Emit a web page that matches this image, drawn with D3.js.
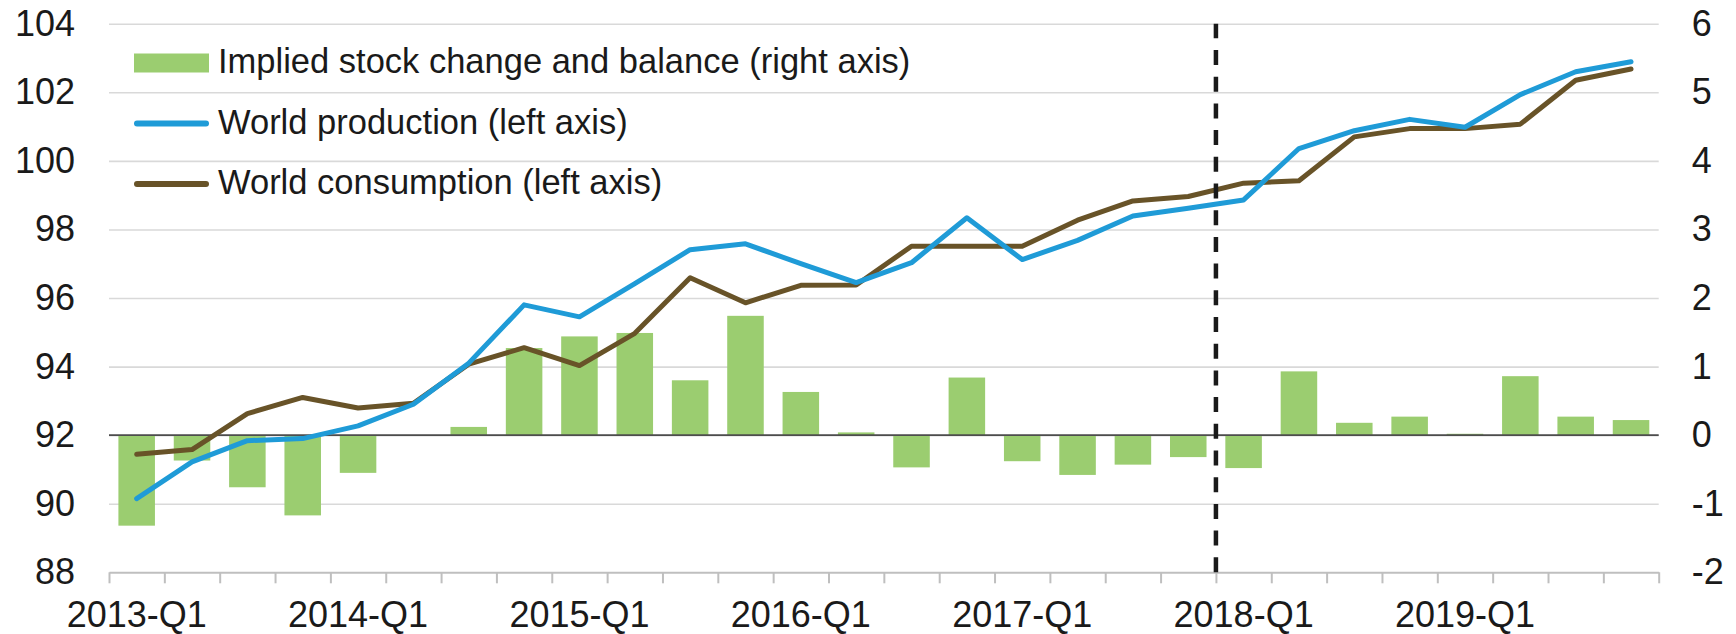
<!DOCTYPE html>
<html>
<head>
<meta charset="utf-8">
<script src="https://cdn.jsdelivr.net/npm/d3@7"></script>
<style>
  html, body { margin: 0; padding: 0; background: #ffffff; }
  svg { display: block; }
  text { font-family: "Liberation Sans", Arial, sans-serif; fill: #1a1a1a; }
</style>
</head>
<body>
<svg id="chart" width="1736" height="634"></svg>
<script>
// ---------- data ----------
const categories = [
  "2013-Q1","2013-Q2","2013-Q3","2013-Q4",
  "2014-Q1","2014-Q2","2014-Q3","2014-Q4",
  "2015-Q1","2015-Q2","2015-Q3","2015-Q4",
  "2016-Q1","2016-Q2","2016-Q3","2016-Q4",
  "2017-Q1","2017-Q2","2017-Q3","2017-Q4",
  "2018-Q1","2018-Q2","2018-Q3","2018-Q4",
  "2019-Q1","2019-Q2","2019-Q3","2019-Q4"
];
const production = [
  90.15, 91.22, 91.84, 91.90,
  92.27, 92.90, 94.10, 95.80,
  95.45, 96.42, 97.41, 97.58,
  97.00, 96.45, 97.03, 98.34,
  97.12, 97.68, 98.39, 98.62,
  98.86, 100.36, 100.88, 101.21,
  100.98, 101.93, 102.60, 102.89
];
const consumption = [
  91.44, 91.58, 92.63, 93.10,
  92.79, 92.93, 94.07, 94.55,
  94.03, 94.97, 96.59, 95.86,
  96.37, 96.38, 97.51, 97.51,
  97.51, 98.27, 98.83, 98.96,
  99.35, 99.42, 100.70, 100.94,
  100.94, 101.07, 102.35, 102.68
];
const stockChange = [
  -1.32, -0.37, -0.76, -1.17,
  -0.55,  0.00,  0.12,  1.27,
   1.44,  1.49,  0.80,  1.74,
   0.63,  0.04, -0.47,  0.84,
  -0.38, -0.58, -0.43, -0.32,
  -0.48,  0.93,  0.18,  0.27,
   0.02,  0.86,  0.27,  0.22
];
const leftTicks = [88, 90, 92, 94, 96, 98, 100, 102, 104];
const rightTicks = [-2, -1, 0, 1, 2, 3, 4, 5, 6];
const xTickLabels = ["2013-Q1","2014-Q1","2015-Q1","2016-Q1","2017-Q1","2018-Q1","2019-Q1"];
const forecastStart = "2018-Q1";
const legendItems = [
  {label: "Implied stock change and balance (right axis)", type: "bar"},
  {label: "World production (left axis)", type: "prod"},
  {label: "World consumption (left axis)", type: "cons"}
];

// ---------- layout ----------
const X0 = 109, X1 = 1658.7, YT = 23.7, YB = 572.3;
const FONT = 36;
const colors = { bar: "#9bcd70", prod: "#1f9bd7", cons: "#685328" };
const fmt = v => String(v); // plain hyphen-minus like the original

const svg = d3.select("#chart");

const pad = 0.34;
const x = d3.scaleBand().domain(categories).range([X0, X1]).paddingInner(pad).paddingOuter(pad / 2);
const xEdge = d3.scaleLinear().domain([0, categories.length]).range([X0, X1]);
const yL = d3.scaleLinear().domain([88, 104]).range([YB, YT]);
const yR = d3.scaleLinear().domain([-2, 6]).range([YB, YT]);

// gridlines
const grid = svg.append("g").attr("transform", `translate(${X0},0)`)
  .call(d3.axisLeft(yL).tickValues(leftTicks.filter(v => v > 88)).tickSize(-(X1 - X0)).tickFormat(""));
grid.select(".domain").remove();
grid.selectAll("line").attr("stroke", "#d9d9d9").attr("stroke-width", 1.6);

// bars
svg.append("g").selectAll("rect").data(categories).join("rect")
  .attr("x", d => x(d))
  .attr("width", x.bandwidth())
  .attr("y", (d, i) => Math.min(yR(stockChange[i]), yR(0)))
  .attr("height", (d, i) => Math.abs(yR(stockChange[i]) - yR(0)))
  .attr("fill", colors.bar);

// zero line (right axis)
svg.append("line")
  .attr("x1", X0).attr("x2", X1)
  .attr("y1", yR(0)).attr("y2", yR(0))
  .attr("stroke", "#4d4d4d").attr("stroke-width", 1.6);

// bottom axis with boundary ticks
const xAxisTicks = svg.append("g").attr("transform", `translate(0,${YB})`)
  .call(d3.axisBottom(xEdge).tickValues(d3.range(categories.length + 1)).tickSize(11).tickSizeOuter(0).tickFormat(""));
xAxisTicks.select(".domain").attr("stroke", "#bfbfbf").attr("stroke-width", 2);
xAxisTicks.selectAll(".tick line").attr("stroke", "#bfbfbf").attr("stroke-width", 2);

const xAxisLabels = svg.append("g").attr("transform", `translate(0,${YB})`)
  .call(d3.axisBottom(x).tickValues(xTickLabels).tickSize(0).tickPadding(29));
xAxisLabels.select(".domain").remove();
xAxisLabels.selectAll("text").attr("font-size", FONT).attr("fill", "#1a1a1a")
  .attr("font-family", "Liberation Sans, Arial, sans-serif");

// left axis labels
const la = svg.append("g").attr("transform", `translate(${X0},0)`)
  .call(d3.axisLeft(yL).tickValues(leftTicks).tickSize(0).tickPadding(34).tickFormat(fmt));
la.select(".domain").remove();
la.selectAll("text").attr("font-size", FONT).attr("fill", "#1a1a1a")
  .attr("font-family", "Liberation Sans, Arial, sans-serif");

// right axis labels
const ra = svg.append("g").attr("transform", `translate(${X1},0)`)
  .call(d3.axisRight(yR).tickValues(rightTicks).tickSize(0).tickPadding(33).tickFormat(fmt));
ra.select(".domain").remove();
ra.selectAll("text").attr("font-size", FONT).attr("fill", "#1a1a1a")
  .attr("font-family", "Liberation Sans, Arial, sans-serif");

// lines
const cx = d => x(d) + x.bandwidth() / 2;
const lineGen = vals => d3.line().x((d, i) => cx(categories[i])).y((d) => yL(d))(vals);
svg.append("path").attr("d", lineGen(consumption))
  .attr("fill", "none").attr("stroke", colors.cons).attr("stroke-width", 5)
  .attr("stroke-linejoin", "round").attr("stroke-linecap", "round");
svg.append("path").attr("d", lineGen(production))
  .attr("fill", "none").attr("stroke", colors.prod).attr("stroke-width", 5)
  .attr("stroke-linejoin", "round").attr("stroke-linecap", "round");

// forecast dashed line
const fx = xEdge(categories.indexOf(forecastStart));
svg.append("line")
  .attr("x1", fx).attr("x2", fx)
  .attr("y1", yL(88)).attr("y2", yL(104))
  .attr("stroke", "#1a1a1a").attr("stroke-width", 4.5)
  .attr("stroke-dasharray", "15 11.7");

// legend
const legendX = 134, legendSwW = 75, legendTextX = 218;
const legendBase = [73, 133.5, 194];
const lg = svg.append("g");
legendItems.forEach((item, i) => {
  const cy = legendBase[i] - 10;
  if (item.type === "bar") {
    lg.append("rect").attr("x", legendX).attr("y", cy - 9.5).attr("width", legendSwW).attr("height", 19)
      .attr("fill", colors.bar);
  } else {
    lg.append("line").attr("x1", legendX + 3).attr("x2", legendX + legendSwW - 3)
      .attr("y1", cy).attr("y2", cy)
      .attr("stroke", colors[item.type]).attr("stroke-width", 6).attr("stroke-linecap", "round");
  }
  lg.append("text").attr("x", legendTextX).attr("y", legendBase[i])
    .attr("font-size", 34.5).text(item.label);
});
</script>
</body>
</html>
